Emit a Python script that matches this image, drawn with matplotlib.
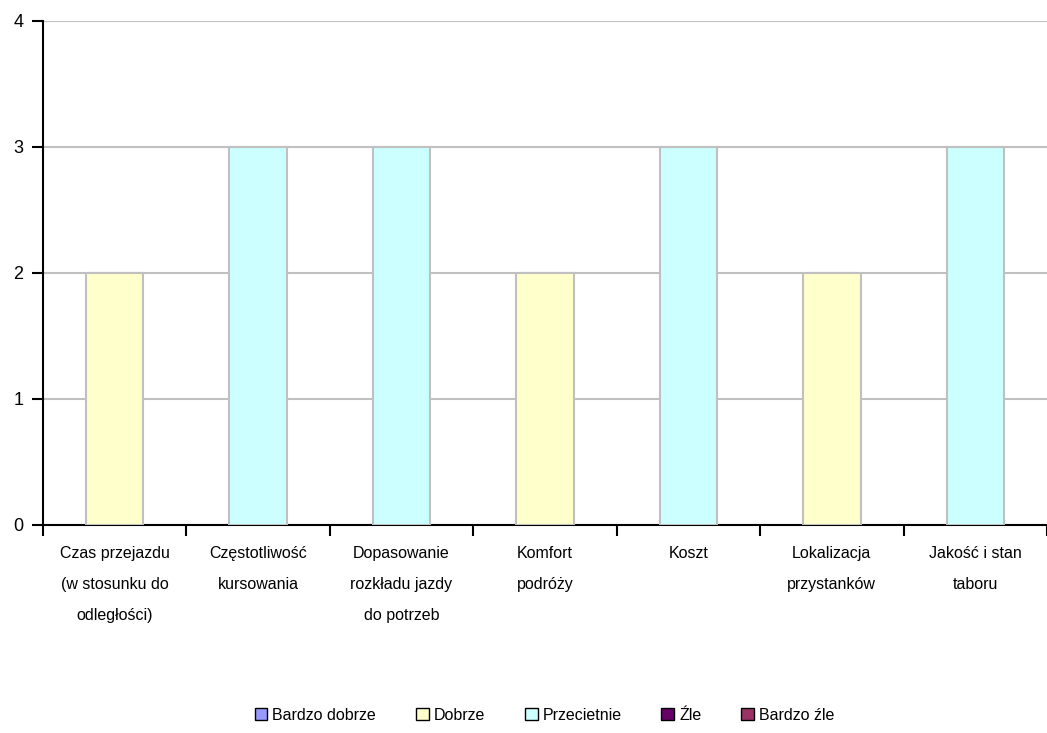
import numpy as np
import matplotlib.pyplot as plt
from matplotlib.patches import Patch

plt.rcParams['font.family'] = ['Liberation Sans', 'DejaVu Sans']

categories = ["Czas przejazdu\n(w stosunku do\nodległości)", "Częstotliwość\nkursowania",
              "Dopasowanie\nrozkładu jazdy\ndo potrzeb", "Komfort\npodróży", "Koszt",
              "Lokalizacja\nprzystanków", "Jakość i stan\ntaboru"]
series = ["Bardzo dobrze", "Dobrze", "Przecietnie", "Źle", "Bardzo źle"]
bardzo_dobrze = [0, 0, 0, 0, 0, 0, 0]
dobrze = [2, 0, 0, 2, 0, 2, 0]
przecietnie = [0, 3, 3, 0, 3, 0, 3]
zle = [0, 0, 0, 0, 0, 0, 0]
bardzo_zle = [0, 0, 0, 0, 0, 0, 0]
colors = ["#9999FF", "#FFFFCC", "#CCFFFF", "#660066", "#993366"]

fig = plt.figure(figsize=(10.47, 7.33), dpi=100)
ax = fig.add_axes([0.041, 0.2838, 0.959, 0.6876])

x = np.arange(len(categories))
bottom = np.zeros(len(categories))
for vals, c in zip([bardzo_dobrze, dobrze, przecietnie, zle, bardzo_zle], colors):
    v = np.array(vals, dtype=float)
    mask = v > 0
    ax.bar(x[mask], v[mask], width=0.4, bottom=bottom[mask], color=c,
           edgecolor="#C0C0C0", linewidth=1.5, zorder=3)
    bottom += v

ax.set_xlim(-0.5, len(categories) - 0.5)
ax.set_ylim(0, 4)
ax.set_yticks([0, 1, 2, 3, 4])
ax.yaxis.grid(True, color="#C0C0C0", linewidth=1.5, zorder=0)
for s in ["top", "right"]:
    ax.spines[s].set_visible(False)
ax.spines["left"].set_linewidth(1.5)
ax.spines["bottom"].set_linewidth(1.5)
ax.tick_params(axis="y", length=8, width=1.5, labelsize=13, pad=6)

ax.set_xticks(np.arange(len(categories) + 1) - 0.5, minor=False)
ax.set_xticklabels([])
ax.tick_params(axis="x", length=8, width=1.5)
ax.set_xticks(x, minor=True)
ax.set_xticklabels(categories, minor=True, fontsize=11.5, linespacing=2.35)
ax.tick_params(axis="x", which="minor", length=0, pad=15)

handles = [Patch(facecolor=c, edgecolor="black", linewidth=1) for c in colors]
fig.legend(handles, series, loc="center", bbox_to_anchor=(0.52, 0.024), ncol=5,
           frameon=False, fontsize=11.5, handlelength=0.8, handleheight=0.8,
           handletextpad=0.3, columnspacing=2.5)

fig.savefig("out.png", dpi=100)
